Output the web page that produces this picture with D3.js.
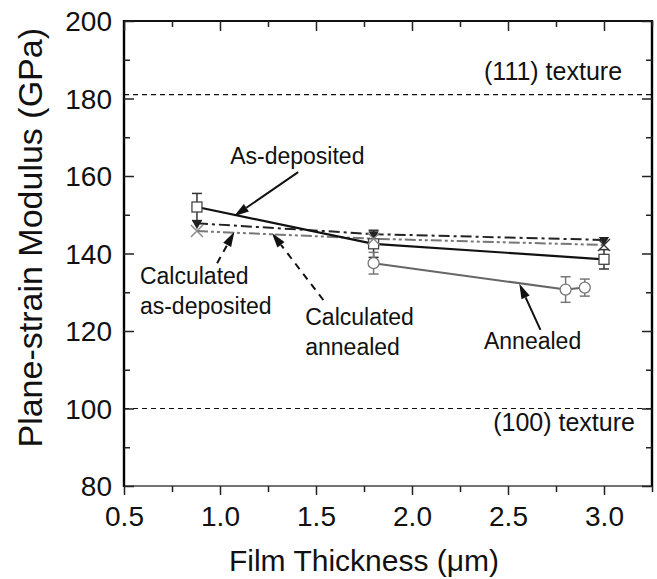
<!DOCTYPE html>
<html><head><meta charset="utf-8">
<script src="https://cdn.jsdelivr.net/npm/d3@7"></script>
<style>body{margin:0;background:#fff}svg{display:block}text{font-family:"Liberation Sans",Arial,sans-serif}</style>
</head><body><svg id="c" width="657" height="579"></svg>
<script>
// ---- data ----
const xTicks = [0.5, 1.0, 1.5, 2.0, 2.5, 3.0];
const yTicks = [80, 100, 120, 140, 160, 180, 200];
const asDepX = [0.88, 1.8, 3.0];
const asDepY = [152, 142.5, 138.5];
const asDepErr = [3.5, 3.5, 2.5];
const annX = [1.8, 2.8, 2.9];
const annY = [137.5, 130.7, 131.2];
const annErr = [2.8, 3.3, 2.2];
const calcAsDepX = [0.88, 1.8, 3.0];
const calcAsDepY = [145.8, 143.8, 142.2];
const calcAnnX = [0.88, 1.8, 3.0];
const calcAnnY = [147.8, 145.0, 143.5];
const refLines = [181, 100];
const refLabels = ["(111) texture", "(100) texture"];

const svg = d3.select("#c");
const L = 124, R = 652, T = 21, B = 486;
const x = d3.scaleLinear().domain([0.5, 3.25]).range([L, R]);
const y = d3.scaleLinear().domain([80, 200]).range([B, T]);

// reference dashed lines
svg.selectAll(".ref").data(refLines).enter().append("line")
  .attr("x1", L).attr("x2", R).attr("y1", d => y(d)).attr("y2", d => y(d))
  .attr("stroke", "#111").attr("stroke-width", 1.2).attr("stroke-dasharray", "5,4");

// series lines
function series(xs, ys, color, dash, w) {
  const pts = xs.map((d, i) => [d, ys[i]]);
  svg.append("path").datum(pts)
    .attr("d", d3.line().x(d => x(d[0])).y(d => y(d[1])))
    .attr("fill", "none").attr("stroke", color).attr("stroke-width", w)
    .attr("stroke-dasharray", dash);
}
series(calcAnnX, calcAnnY, "#222", "11,4,3,4", 2);
series(calcAsDepX, calcAsDepY, "#777", "11,3,3,3,3,3", 2);
series(asDepX, asDepY, "#111", null, 2.2);
series(annX, annY, "#666", null, 2);

// error bars
function errs(xs, ys, es, color) {
  xs.forEach((xv, i) => {
    const g = svg.append("g").attr("stroke", color).attr("stroke-width", 1.5);
    g.append("line").attr("x1", x(xv)).attr("x2", x(xv)).attr("y1", y(ys[i] - es[i])).attr("y2", y(ys[i] + es[i]));
    [ys[i] - es[i], ys[i] + es[i]].forEach(v =>
      g.append("line").attr("x1", x(xv) - 5).attr("x2", x(xv) + 5).attr("y1", y(v)).attr("y2", y(v)));
  });
}
errs(asDepX, asDepY, asDepErr, "#333");
errs(annX, annY, annErr, "#777");

// markers
asDepX.forEach((xv, i) => svg.append("rect").attr("x", x(xv) - 5).attr("y", y(asDepY[i]) - 5)
  .attr("width", 10).attr("height", 10).attr("fill", "#fff").attr("stroke", "#444").attr("stroke-width", 1.3));
annX.forEach((xv, i) => svg.append("circle").attr("cx", x(xv)).attr("cy", y(annY[i])).attr("r", 5.5)
  .attr("fill", "#fff").attr("stroke", "#777").attr("stroke-width", 1.3));
calcAnnX.forEach((xv, i) => svg.append("path")
  .attr("d", d3.symbol().type(d3.symbolTriangle).size(45)())
  .attr("transform", `translate(${x(xv)},${y(calcAnnY[i])}) rotate(180)`).attr("fill", "#222"));
calcAsDepX.forEach((xv, i) => {
  const cx = x(xv), cy = y(calcAsDepY[i]);
  svg.append("path").attr("d", `M${cx-6},${cy-6}L${cx+6},${cy+6}M${cx-6},${cy+6}L${cx+6},${cy-6}`)
    .attr("stroke", i === 2 ? "#333" : "#888").attr("stroke-width", 1.4);
});

// frame
svg.append("line").attr("x1", L).attr("x2", R).attr("y1", T).attr("y2", T).attr("stroke", "#111").attr("stroke-width", 1.8);
svg.append("line").attr("x1", L).attr("x2", R).attr("y1", B).attr("y2", B).attr("stroke", "#444").attr("stroke-width", 1.3);
svg.append("line").attr("x1", L).attr("x2", L).attr("y1", T - 1).attr("y2", B + 1).attr("stroke", "#000").attr("stroke-width", 2.4);
svg.append("line").attr("x1", R).attr("x2", R).attr("y1", T - 1).attr("y2", B + 1).attr("stroke", "#000").attr("stroke-width", 2.4);

// axes via d3
const fmtX = d3.format(".1f");
const xMinor = d3.range(0.75, 3.3, 0.5);
const yMinor = d3.range(90, 200, 20);
const axB = svg.append("g").attr("transform", `translate(0,${B})`)
  .call(d3.axisBottom(x).tickValues(xTicks).tickFormat(fmtX).tickSize(9).tickPadding(11));
svg.append("g").attr("transform", `translate(0,${B})`).call(d3.axisBottom(x).tickValues(xMinor).tickFormat("").tickSize(6));
const axL = svg.append("g").attr("transform", `translate(${L},0)`)
  .call(d3.axisLeft(y).tickValues(yTicks).tickSize(-10).tickPadding(12));
svg.append("g").attr("transform", `translate(${L},0)`).call(d3.axisLeft(y).tickValues(yMinor).tickFormat("").tickSize(-6));
svg.append("g").attr("transform", `translate(0,${T})`).call(d3.axisTop(x).tickValues(xTicks).tickFormat("").tickSize(-10));
svg.append("g").attr("transform", `translate(0,${T})`).call(d3.axisTop(x).tickValues(xMinor).tickFormat("").tickSize(-6));
svg.append("g").attr("transform", `translate(${R},0)`).call(d3.axisRight(y).tickValues(yTicks).tickFormat("").tickSize(-10));
svg.append("g").attr("transform", `translate(${R},0)`).call(d3.axisRight(y).tickValues(yMinor).tickFormat("").tickSize(-6));
svg.selectAll(".domain").remove();
svg.selectAll(".tick line").attr("stroke", "#222").attr("stroke-width", 1.5);
axB.selectAll("text").attr("font-size", 28).attr("fill", "#111");
axL.selectAll("text").attr("font-size", 28).attr("fill", "#111").attr("dy", "0.35em");

// axis titles
svg.append("text").attr("x", 364).attr("y", 571).attr("text-anchor", "middle")
  .attr("font-size", 30).attr("fill", "#111").text("Film Thickness (\u03bcm)");
svg.append("text").attr("transform", `translate(42,28) rotate(-90)`).attr("text-anchor", "end")
  .attr("font-size", 34).attr("fill", "#111").text("Plane-strain Modulus (GPa)");

// reference labels
const refLabelPos = [[3.094, 184.8], [3.161, 94.3]];
refLabels.forEach((t, i) => svg.append("text").attr("x", x(refLabelPos[i][0])).attr("y", y(refLabelPos[i][1]))
  .attr("text-anchor", "end").attr("font-size", 25).attr("fill", "#111").text(t));

// annotations (data coordinates)
const notes = [
  { lines: ["As-deposited"], at: [1.053, 163.1], anchor: "start" },
  { lines: ["Calculated", "as-deposited"], at: [0.583, 132.1], anchor: "start" },
  { lines: ["Calculated", "annealed"], at: [1.444, 121.5], anchor: "start" },
  { lines: ["Annealed"], at: [2.628, 115.3], anchor: "middle" }
];
notes.forEach(n => {
  const t = svg.append("text").attr("x", x(n.at[0])).attr("y", y(n.at[1])).attr("text-anchor", n.anchor)
    .attr("font-size", 23).attr("fill", "#111");
  n.lines.forEach((s, i) => t.append("tspan").attr("x", x(n.at[0])).attr("dy", i ? 30 : 0).text(s));
});
const arrows = [
  { from: [1.407, 161.0], to: [1.073, 149.6], dash: null },
  { from: [0.985, 137.5], to: [1.075, 145.6], dash: "7,6" },
  { from: [1.538, 128.0], to: [1.27, 145.3], dash: "7,6" },
  { from: [2.669, 120.3], to: [2.559, 132.2], dash: null }
];
arrows.forEach(a => {
  const x1 = x(a.from[0]), y1 = y(a.from[1]), x2 = x(a.to[0]), y2 = y(a.to[1]);
  const ang = Math.atan2(y2 - y1, x2 - x1), hl = 15, hw = 4.5;
  const bx = x2 - hl * Math.cos(ang), by = y2 - hl * Math.sin(ang);
  svg.append("line").attr("x1", x1).attr("y1", y1).attr("x2", bx).attr("y2", by)
    .attr("stroke", "#111").attr("stroke-width", 2).attr("stroke-dasharray", a.dash);
  const px = -Math.sin(ang) * hw, py = Math.cos(ang) * hw;
  svg.append("path").attr("d", `M${x2},${y2}L${bx + px},${by + py}L${bx - px},${by - py}Z`).attr("fill", "#111");
});
</script></body></html>
